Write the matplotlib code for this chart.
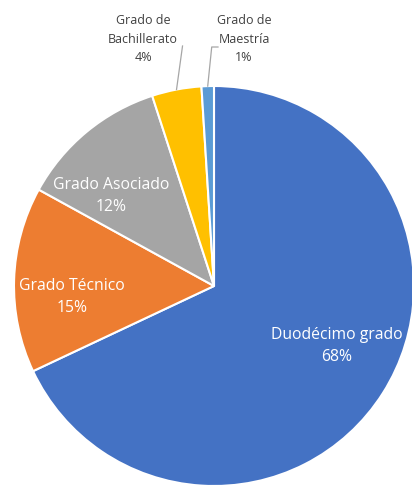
import matplotlib.pyplot as plt
import numpy as np

labels = ["Duodécimo grado", "Grado Técnico", "Grado Asociado",
          "Grado de\nBachillerato", "Grado de\nMaestría"]
values = [68, 15, 12, 4, 1]
colors = ["#4472C4", "#ED7D31", "#A5A5A5", "#FFC000", "#5B9BD5"]

plt.rcParams['font.family'] = ['Open Sans', 'DejaVu Sans']

fig = plt.figure(figsize=(4.12, 4.89), dpi=100)
ax = fig.add_axes([0, 0, 1, 1])

wedges, _ = ax.pie(values, colors=colors, startangle=90, counterclock=False,
                   radius=1.0, wedgeprops=dict(edgecolor="white", linewidth=1.5))

ax.set_xlim(-1.07, 0.99)
ax.set_ylim(-1.01, 1.435)
ax.set_aspect("equal")
ax.axis("off")

pct = ["%d%%" % v for v in values]

# inside labels
inside_pos = [(0.615, -0.295), (-0.71, -0.05), (-0.515, 0.455)]
for i, (x, y) in enumerate(inside_pos):
    ax.text(x, y, labels[i] + "\n" + pct[i], color="white", fontsize=11.3,
            ha="center", va="center", linespacing=1.55)

# outside labels with leader lines
outside_pos = [(-0.355, 1.24), (0.15, 1.24)]
cum = np.cumsum(values) - np.array(values) / 2.0
total = float(sum(values))
for k, i in enumerate([3, 4]):
    x, y = outside_pos[k]
    ax.text(x, y, labels[i] + "\n" + pct[i], color="#404040", fontsize=9,
            ha="center", va="center", linespacing=1.55)
    ang = np.deg2rad(90 - 360 * cum[i] / total)
    x0, y0 = np.cos(ang) * 1.0, np.sin(ang) * 1.0
    if i == 3:
        ax.plot([x0, x0 + 0.03], [y0, 1.2], color="#A6A6A6", lw=0.9)
    else:
        ax.plot([x0, x0 + 0.02, 0.02], [y0, 1.195, 1.195], color="#A6A6A6", lw=0.9)

fig.savefig("out.png", dpi=100)
